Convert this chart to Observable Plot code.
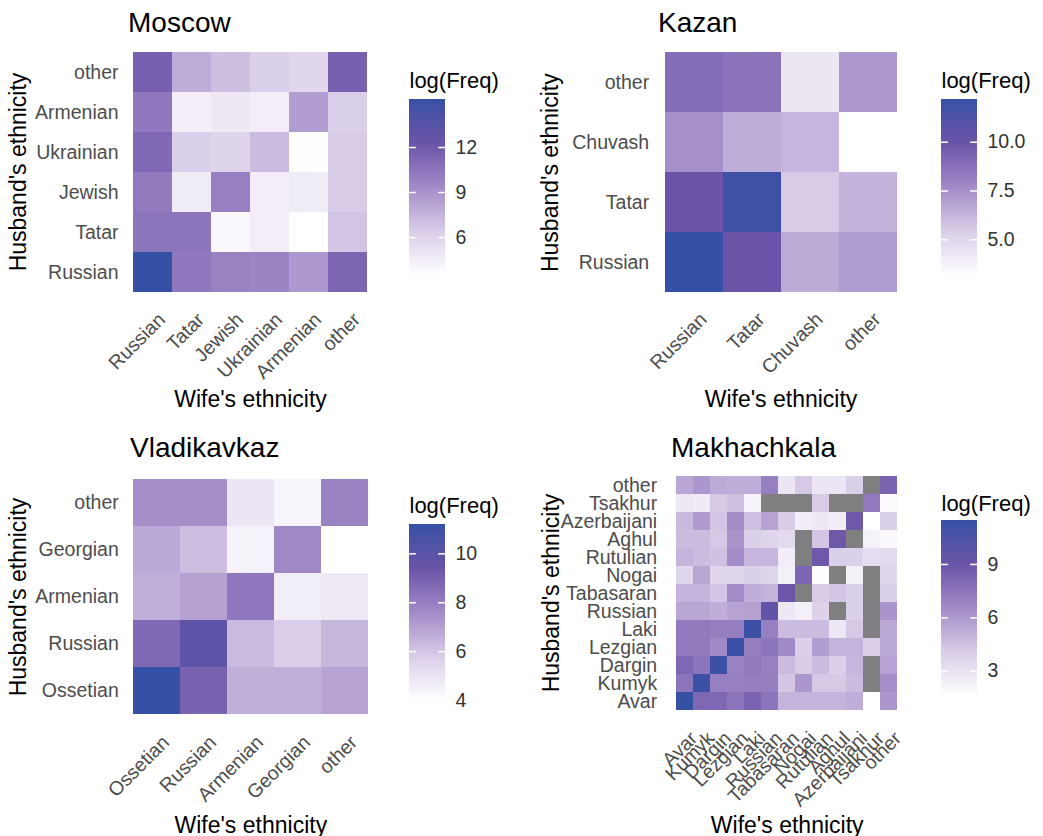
<!DOCTYPE html>
<html><head><meta charset="utf-8">
<script src="https://cdn.jsdelivr.net/npm/d3@7"></script>
<script src="https://cdn.jsdelivr.net/npm/@observablehq/plot@0.6"></script>
<style>
body{margin:0;background:#fff;}
#root{position:relative;width:1043px;height:836px;overflow:hidden;background:#fff;font-family:"Liberation Sans",Arial,sans-serif;}
.ttl{position:absolute;font-size:28px;line-height:1;color:#000;white-space:nowrap;}
</style></head><body><div id="root"></div>
<script>
// ---------- DATA (rows = husband's ethnicity, columns = wife's ethnicity; null = zero count, shown grey) ----------
const moscowCats = ["Russian","Tatar","Jewish","Ukrainian","Armenian","other"];
const moscowLogFreq = [
  [15.2, 10.3, 9.8, 9.7, 8.7, 11.3],
  [10.5, 10.5, 3.9, 4.5, 3.47, 6.8],
  [10.2, 4.6, 9.9, 4.5, 4.6, 6.5],
  [11.1, 6.3, 6.0, 7.2, 3.5, 6.5],
  [10.3, 4.5, 4.8, 4.5, 8.5, 6.3],
  [11.6, 7.8, 7.0, 6.3, 5.8, 11.6]
];
const moscowTicks = [6, 9, 12];
const moscowTickLabels = ["6", "9", "12"];

const kazanCats = ["Russian","Tatar","Chuvash","other"];
const kazanLogFreq = [
  [12.19, 10.0, 6.6, 7.1],
  [10.0, 11.9, 5.5, 6.3],
  [7.5, 6.5, 6.2, 3.17],
  [8.9, 8.6, 4.3, 7.2]
];
const kazanTicks = [5, 7.5, 10];
const kazanTickLabels = ["5.0", "7.5", "10.0"];

const vladikavkazCats = ["Ossetian","Russian","Armenian","Georgian","other"];
const vladikavkazLogFreq = [
  [11.2, 8.9, 6.6, 6.6, 6.9],
  [8.7, 9.9, 6.3, 5.8, 6.4],
  [6.6, 7.0, 8.2, 4.6, 4.8],
  [6.8, 6.2, 4.45, 7.65, 4.0],
  [7.5, 7.5, 4.9, 4.4, 7.9]
];
const vladikavkazTicks = [4, 6, 8, 10];
const vladikavkazTickLabels = ["4", "6", "8", "10"];

const makhachkalaCats = ["Avar","Kumyk","Dargin","Lezgian","Laki","Russian","Tabasaran","Nogai","Rutulian","Aghul","Azerbaijani","Tsakhur","other"];
const makhachkalaLogFreq = [
  [11.47, 8.1, 8.1, 7.5, 8.3, 7.5, 5.0, 5.0, 5.0, 5.0, 5.2, 1.6, 6.1],
  [7.5, 11.3, 7.0, 7.0, 7.1, 7.1, 4.3, 6.1, 4.2, 4.2, 4.7, null, 6.4],
  [8.1, 7.5, 11.2, 6.9, 7.3, 7.0, 4.7, 4.1, 4.7, 3.9, 4.9, null, 5.6],
  [7.3, 7.3, 6.6, 11.2, 7.1, 7.5, 6.6, 3.9, 5.8, 5.0, 5.0, 3.9, 5.4],
  [7.3, 7.3, 7.1, 7.1, 11.2, 7.0, 4.7, 4.7, 4.7, 2.7, 4.2, null, 5.4],
  [5.5, 5.5, 5.2, 5.6, 5.7, 9.5, 2.7, 2.3, 3.8, null, 3.9, null, 6.2],
  [5.0, 5.0, 4.3, 6.5, 5.2, 5.0, 8.9, null, 4.1, 4.3, 3.9, null, 3.9],
  [3.6, 5.5, 3.6, 3.6, 3.9, 3.6, 2.3, 8.2, 1.7, null, 2.3, null, 3.6],
  [5.0, 4.7, 4.5, 6.5, 4.9, 4.9, 2.5, null, 8.8, 3.9, 3.9, 3.2, 3.4],
  [4.7, 4.7, 4.2, 6.2, 3.9, 3.6, 3.4, null, 4.3, 8.8, null, 2.2, 1.9],
  [4.8, 5.9, 4.3, 6.5, 4.5, 5.6, 4.1, 2.5, 2.7, 2.5, 8.8, 1.58, 3.9],
  [2.7, 2.6, 4.2, 4.5, 2.2, null, null, null, 4.1, null, null, 7.3, 1.8],
  [5.5, 6.1, 5.3, 5.2, 5.2, 7.0, 2.8, 4.2, 2.8, 2.8, 3.9, null, 8.3]
];
const makhachkalaTicks = [3, 6, 9];
const makhachkalaTickLabels = ["3", "6", "9"];

// ---------- STYLE ----------
const FONT = "'Liberation Sans', Arial, sans-serif";
const rampColors = ["#ffffff", "#d9cde8", "#a18bc7", "#6a54a8", "#3551a5"];
const ramp = d3.piecewise(d3.interpolateLab, rampColors);
const NA_COLOR = "#7f7f7f";

const root = document.getElementById("root");

function drawPanel(cfg) {
  const {x0, y0, W, H, cats, matrix, title, titleX, titleBase, heat, yTitleX, xTitleBase, bar, ticks, tickLabels, legTitleBase} = cfg;
  const cells = [];
  cats.forEach((h, i) => cats.forEach((w, j) => cells.push({husband: h, wife: w, value: matrix[i][j]})));
  const present = cells.filter(d => d.value != null);
  const na = cells.filter(d => d.value == null);
  const ext = d3.extent(present, d => d.value);
  const color = {type: "linear", domain: ext, interpolate: ramp};

  // title
  const t = document.createElement("div");
  t.className = "ttl";
  t.textContent = title;
  t.style.left = titleX + "px";
  t.style.top = (titleBase - 0.8465 * 28) + "px";
  root.appendChild(t);

  const svg = Plot.plot({
    width: W, height: H,
    marginLeft: heat.left - x0, marginTop: heat.top - y0,
    marginRight: x0 + W - heat.right, marginBottom: y0 + H - heat.bottom,
    style: {fontFamily: FONT, fontSize: "19.5px", color: "#4d4d4d", background: "none", overflow: "visible"},
    x: {type: "band", domain: cats, padding: 0, label: null},
    y: {type: "band", domain: cats.slice().reverse(), padding: 0, label: null},
    color,
    marks: [
      Plot.cell(present, {x: "wife", y: "husband", fill: "value", inset: 0, shapeRendering: "crispEdges"}),
      Plot.cell(na, {x: "wife", y: "husband", fill: NA_COLOR, inset: 0, shapeRendering: "crispEdges"}),
      Plot.axisX({tickRotate: -45, tickSize: 0, tickPadding: 23, dx: 9, label: null}),
      Plot.axisY({tickSize: 0, tickPadding: 14, label: null}),
      Plot.text(["Husband's ethnicity"], {text: d => d, frameAnchor: "left", textAnchor: "middle", lineAnchor: "middle", rotate: -90, dx: yTitleX - heat.left, fontSize: 23, fill: "black"}),
      Plot.text(["Wife's ethnicity"], {text: d => d, frameAnchor: "bottom", textAnchor: "middle", lineAnchor: "bottom", dy: xTitleBase - heat.bottom, fontSize: 23, fill: "black"})
    ]
  });
  svg.style.position = "absolute";
  svg.style.left = x0 + "px";
  svg.style.top = y0 + "px";
  root.appendChild(svg);

  // colour bar legend
  const nStrip = 176;
  const strips = d3.range(nStrip).map(i => ({lo: ext[0] + (ext[1] - ext[0]) * i / nStrip, hi: ext[0] + (ext[1] - ext[0]) * (i + 1) / nStrip}));
  const barW = bar.right - bar.left, barH = bar.bottom - bar.top;
  const legMT = 40, legMB = 12, legMR = 80;
  const leg = Plot.plot({
    width: barW + legMR, height: barH + legMT + legMB,
    marginLeft: 0, marginTop: legMT, marginRight: legMR, marginBottom: legMB,
    style: {fontFamily: FONT, fontSize: "19.5px", color: "#333", background: "none", overflow: "visible"},
    x: {domain: [0, 1], axis: null},
    y: {domain: ext, axis: null},
    color,
    marks: [
      Plot.rect(strips, {x1: 0, x2: 1, y1: "lo", y2: "hi", fill: d => (d.lo + d.hi) / 2, shapeRendering: "crispEdges"}),
      Plot.ruleY(ticks, {x1: 0, x2: 0.19, stroke: "white", strokeWidth: 1.5}),
      Plot.ruleY(ticks, {x1: 0.81, x2: 1, stroke: "white", strokeWidth: 1.5}),
      Plot.axisY(ticks, {anchor: "right", tickSize: 0, tickPadding: 10, tickFormat: d => tickLabels[ticks.indexOf(d)], label: null}),
      Plot.text(["log(Freq)"], {text: d => d, frameAnchor: "top-left", textAnchor: "start", lineAnchor: "bottom", dy: legTitleBase - bar.top, fontSize: 22, fill: "black"})
    ]
  });
  leg.style.position = "absolute";
  leg.style.left = bar.left + "px";
  leg.style.top = (bar.top - legMT) + "px";
  root.appendChild(leg);
}

drawPanel({x0: 0, y0: 0, W: 520, H: 418, cats: moscowCats, matrix: moscowLogFreq, title: "Moscow",
  titleX: 128, titleBase: 33, heat: {left: 132, top: 50, right: 368, bottom: 293}, yTitleX: 18, xTitleBase: 406.5,
  bar: {left: 409, top: 99, right: 445, bottom: 275}, ticks: moscowTicks, tickLabels: moscowTickLabels, legTitleBase: 87});

drawPanel({x0: 520, y0: 0, W: 523, H: 418, cats: kazanCats, matrix: kazanLogFreq, title: "Kazan",
  titleX: 658, titleBase: 33, heat: {left: 662.7, top: 51.7, right: 898.3, bottom: 292.7}, yTitleX: 550, xTitleBase: 406.5,
  bar: {left: 940.7, top: 99, right: 976.7, bottom: 275}, ticks: kazanTicks, tickLabels: kazanTickLabels, legTitleBase: 87.5});

drawPanel({x0: 0, y0: 418, W: 520, H: 418, cats: vladikavkazCats, matrix: vladikavkazLogFreq, title: "Vladikavkaz",
  titleX: 130, titleBase: 458, heat: {left: 132.3, top: 477.3, right: 368.3, bottom: 715.7}, yTitleX: 18, xTitleBase: 832,
  bar: {left: 409, top: 524, right: 445, bottom: 700}, ticks: vladikavkazTicks, tickLabels: vladikavkazTickLabels, legTitleBase: 512});

drawPanel({x0: 520, y0: 418, W: 523, H: 418, cats: makhachkalaCats, matrix: makhachkalaLogFreq, title: "Makhachkala",
  titleX: 671, titleBase: 458, heat: {left: 670.7, top: 473.3, right: 902.7, bottom: 711.7}, yTitleX: 551, xTitleBase: 832,
  bar: {left: 940.7, top: 520, right: 976.7, bottom: 696}, ticks: makhachkalaTicks, tickLabels: makhachkalaTickLabels, legTitleBase: 510});
</script>
</body></html>
